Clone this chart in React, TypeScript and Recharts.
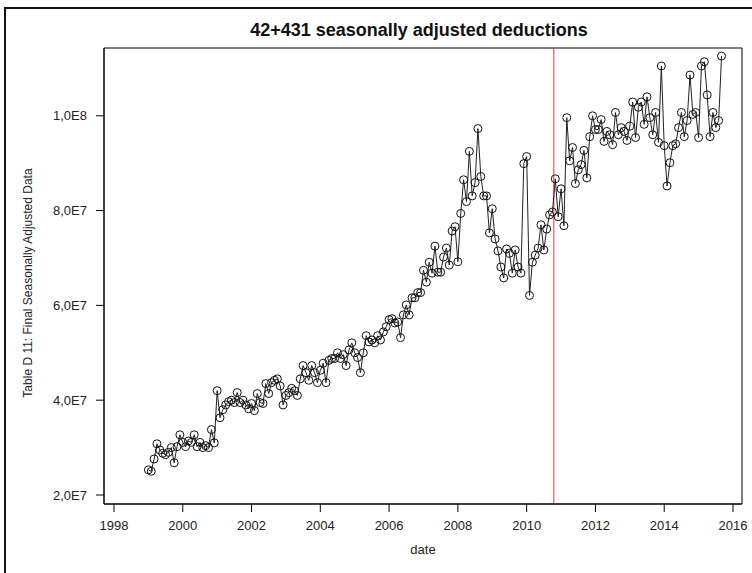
import {
  ComposedChart,
  Line,
  ReferenceArea,
  ReferenceLine,
  XAxis,
  YAxis,
} from "recharts";

// monthly values in units of 1E7, Jan 1999 .. Sep 2015
const START_YEAR = 1999;
const v1999 = [2.53, 2.5, 2.76, 3.08, 2.95, 2.88, 2.85, 2.9, 3.0, 2.68, 3.02, 3.27];
const v2000 = [3.11, 3.02, 3.14, 3.11, 3.27, 3.02, 3.11, 3.0, 3.04, 3.0, 3.38, 3.1];
const v2001 = [4.2, 3.63, 3.8, 3.9, 3.97, 4.0, 3.95, 4.16, 3.95, 4.0, 3.9, 3.82];
const v2002 = [3.93, 3.78, 4.14, 3.95, 3.93, 4.35, 4.14, 4.37, 4.42, 4.45, 4.3, 3.9];
const v2003 = [4.1, 4.16, 4.25, 4.2, 4.1, 4.45, 4.73, 4.58, 4.42, 4.73, 4.58, 4.37];
const v2004 = [4.63, 4.78, 4.37, 4.84, 4.88, 4.88, 5.0, 4.88, 4.96, 4.73, 5.06, 5.21];
const v2005 = [5.0, 4.9, 4.58, 5.0, 5.36, 5.23, 5.27, 5.21, 5.36, 5.27, 5.44, 5.55];
const v2006 = [5.7, 5.72, 5.63, 5.65, 5.32, 5.8, 6.01, 5.8, 6.16, 6.16, 6.27, 6.27];
const v2007 = [6.74, 6.49, 6.91, 6.68, 7.25, 6.7, 6.7, 7.02, 7.21, 6.85, 7.57, 7.66];
const v2008 = [6.92, 7.94, 8.65, 8.19, 9.25, 8.31, 8.59, 9.73, 8.72, 8.31, 8.31, 7.53];
const v2009 = [8.04, 7.4, 7.15, 6.81, 6.58, 7.19, 7.1, 6.68, 7.17, 6.81, 6.68, 8.99];
const v2010 = [9.14, 6.21, 6.91, 7.06, 7.21, 7.7, 7.17, 7.61, 7.91, 7.97, 8.67, 7.87];
const v2011 = [8.46, 7.68, 9.96, 9.05, 9.33, 8.57, 8.86, 8.97, 9.27, 8.69, 9.56, 10.0];
const v2012 = [9.71, 9.71, 9.92, 9.46, 9.67, 9.6, 9.39, 10.07, 9.6, 9.75, 9.67, 9.48];
const v2013 = [9.78, 10.29, 9.54, 10.18, 10.29, 9.82, 10.4, 9.96, 9.6, 10.07, 9.44, 11.05];
const v2014 = [9.37, 8.52, 9.01, 9.37, 9.41, 9.75, 10.07, 9.56, 9.9, 10.86, 10.03, 10.07];
const v2015 = [9.54, 11.05, 11.14, 10.44, 9.56, 10.07, 9.75, 9.9, 11.26];

const X_TICKS = [1998, 2000, 2002, 2004, 2006, 2008, 2010, 2012, 2014, 2016];
const Y_TICKS = [2e7, 4e7, 6e7, 8e7, 1e8];
const BREAK_DATE = 2010.79;

const X_MIN = 1997.71;
const X_MAX = 2016.262;
const Y_MIN = 1.81e7;
const Y_MAX = 1.143e8;

const FONT = "Arial, 'Liberation Sans', sans-serif";

const monthly = [
  v1999, v2000, v2001, v2002, v2003, v2004, v2005, v2006, v2007,
  v2008, v2009, v2010, v2011, v2012, v2013, v2014, v2015,
].flat();

const data = monthly.map((v, i) => ({ date: START_YEAR + i / 12, value: v * 1e7 }));

function sciLabel(v: number) {
  const exp = Math.floor(Math.log10(v) + 1e-9);
  const mant = v / Math.pow(10, exp);
  return `${mant.toFixed(1).replace(".", ",")}E${exp}`;
}

const YLabel = () => (
  <text
    x={28}
    y={283}
    transform="rotate(-90, 28, 283)"
    textAnchor="middle"
    dominantBaseline="central"
    fontFamily={FONT}
    fontSize={12}
    fill="#222"
  >
    Table D 11:  Final Seasonally Adjusted Data
  </text>
);

const XLabel = () => (
  <text
    x={423}
    y={549}
    textAnchor="middle"
    dominantBaseline="central"
    fontFamily={FONT}
    fontSize={13}
    fill="#222"
  >
    date
  </text>
);

export default function App() {
  return (
    <div
      style={{
        position: "absolute",
        left: 0,
        top: 0,
        width: 752,
        height: 573,
        background: "#fff",
        overflow: "hidden",
      }}
    >
      <div
        style={{
          position: "absolute",
          left: 4,
          top: 7,
          width: 800,
          height: 600,
          borderTop: "2px solid #111",
          borderLeft: "2px solid #111",
        }}
      />
      <div
        style={{
          position: "absolute",
          left: 100,
          top: 20,
          width: 638,
          textAlign: "center",
          fontFamily: FONT,
          fontWeight: 700,
          fontSize: 18,
          color: "#111",
        }}
      >
        42+431 seasonally adjusted deductions
      </div>
      <div style={{ position: "absolute", left: 0, top: 0 }}>
        <ComposedChart
          width={752}
          height={573}
          data={data}
          margin={{ top: 48, right: 10, bottom: 39, left: 34 }}
        >
          <XAxis
            dataKey="date"
            type="number"
            domain={[X_MIN, X_MAX]}
            ticks={X_TICKS}
            interval={0}
            allowDataOverflow
            tickSize={8}
            tickMargin={9}
            height={30}
            stroke="#000"
            tick={{ fill: "#222", fontSize: 13, fontFamily: FONT }}
            tickFormatter={(v: number) => String(v)}
            label={<XLabel />}
          />
          <YAxis
            type="number"
            domain={[Y_MIN, Y_MAX]}
            ticks={Y_TICKS}
            interval={0}
            allowDataOverflow
            width={70}
            tickSize={8}
            tickMargin={9}
            stroke="#000"
            tick={{ fill: "#222", fontSize: 13, fontFamily: FONT }}
            tickFormatter={sciLabel}
            label={<YLabel />}
          />
          <ReferenceArea
            x1={X_MIN}
            x2={X_MAX}
            y1={Y_MIN}
            y2={Y_MAX}
            fill="none"
            stroke="#000"
            strokeWidth={1}
          />
          <ReferenceLine x={BREAK_DATE} stroke="#e8353a" strokeWidth={1} />
          <Line
            dataKey="value"
            stroke="#222"
            strokeWidth={1}
            dot={{ r: 4, stroke: "#111", strokeWidth: 1, fill: "none" }}
            activeDot={false}
            isAnimationActive={false}
          />
        </ComposedChart>
      </div>
    </div>
  );
}
